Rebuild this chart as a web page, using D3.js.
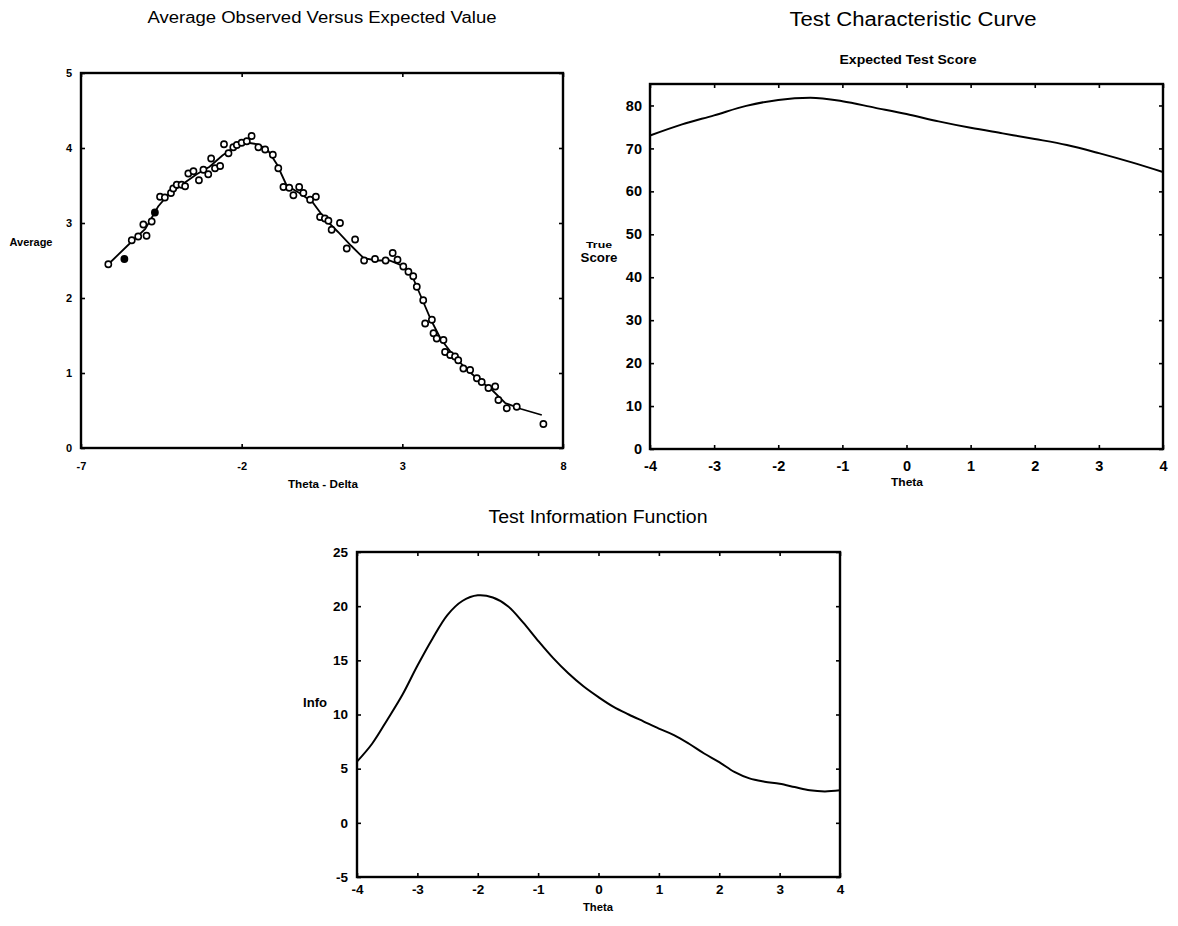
<!DOCTYPE html>
<html>
<head>
<meta charset="utf-8">
<script src="https://cdn.jsdelivr.net/npm/d3@7"></script>
<style>
  html, body { margin: 0; padding: 0; background: #fff; }
  svg { display: block; }
  text { font-family: "Liberation Sans", Arial, sans-serif; fill: #000; }
  .tick text { font-weight: bold; }
</style>
</head>
<body>
<svg id="chart" width="1178" height="926"></svg>
<script>
// Average observed vs expected: observed averages (points) and the smoothed fit (line)
const obsTheta = [-6.15,-5.65,-5.42,-5.22,-4.96,-5.06,-4.80,-4.70,-4.54,-4.39,-4.20,-4.13,-4.02,-3.87,-3.76,-3.66,-3.50,-3.33,-3.19,-3.04,-2.95,-2.83,-2.67,-2.55,-2.41,-2.26,-2.15,-2.00,-1.84,-1.69,-1.48,-1.27,-1.03,-0.86,-0.70,-0.52,-0.39,-0.21,-0.08,0.13,0.31,0.44,0.59,0.70,0.80,1.06,1.27,1.53,1.81,2.15,2.48,2.70,2.85,3.03,3.19,3.34,3.45,3.65,3.71,3.92,3.97,4.07,4.28,4.33,4.49,4.64,4.74,4.90,5.11,5.32,5.47,5.68,5.89,5.99,6.25,6.56,7.39];
const obsAvg   = [2.45,2.52,2.77,2.82,2.83,2.98,3.02,3.14,3.35,3.34,3.40,3.46,3.51,3.51,3.49,3.66,3.69,3.57,3.71,3.65,3.86,3.73,3.76,4.05,3.93,4.01,4.04,4.07,4.09,4.16,4.01,3.98,3.91,3.73,3.48,3.47,3.37,3.48,3.40,3.31,3.35,3.08,3.06,3.03,2.91,3.00,2.66,2.78,2.50,2.52,2.50,2.60,2.51,2.42,2.35,2.29,2.15,1.97,1.66,1.71,1.53,1.46,1.44,1.28,1.24,1.22,1.17,1.06,1.04,0.93,0.88,0.80,0.82,0.64,0.53,0.55,0.32];
const obsFilled = [1, 7];
const fitTheta = [-6.15,-5.5,-5.0,-4.6,-4.3,-3.9,-3.4,-3.0,-2.6,-2.2,-1.8,-1.5,-1.2,-0.9,-0.6,-0.2,0.2,0.6,1.0,1.4,1.8,2.2,2.6,3.0,3.3,3.6,3.9,4.2,4.6,5.0,5.4,5.8,6.2,6.7,7.34];
const fitAvg   = [2.45,2.72,2.92,3.22,3.37,3.50,3.65,3.75,3.90,4.02,4.07,4.05,3.98,3.78,3.50,3.40,3.28,3.05,2.88,2.70,2.53,2.50,2.50,2.43,2.30,2.00,1.70,1.45,1.23,1.05,0.90,0.77,0.60,0.52,0.44];
const avgXTicks = [-7, -2, 3, 8];
const avgYTicks = [0, 1, 2, 3, 4, 5];

// Test characteristic curve
const tccTheta = [-4,-3.5,-3,-2.5,-2,-1.5,-1,-0.5,0,0.5,1,1.5,2,2.5,3,3.5,4];
const tccScore = [73.0,75.6,77.7,79.9,81.3,81.8,81.0,79.5,78.0,76.3,74.8,73.5,72.2,70.8,68.9,66.8,64.5];
const tccYTicks = [0,10,20,30,40,50,60,70,80];

// Test information function
const tifTheta = [-4,-3.75,-3.5,-3.25,-3,-2.75,-2.5,-2.25,-2,-1.75,-1.5,-1.25,-1,-0.75,-0.5,-0.25,0,0.25,0.5,0.75,1,1.25,1.5,1.75,2,2.25,2.5,2.75,3,3.25,3.5,3.75,4];
const tifInfo  = [5.65,7.3,9.5,11.8,14.5,17.0,19.2,20.5,21.0,20.8,20.0,18.5,16.8,15.2,13.8,12.6,11.6,10.7,10.0,9.35,8.7,8.1,7.3,6.4,5.6,4.7,4.1,3.8,3.6,3.3,3.0,2.9,3.0];
const tifYTicks = [-5,0,5,10,15,20,25];
const thetaTicks = [-4,-3,-2,-1,0,1,2,3,4];

const svg = d3.select("#chart");
const fmt = d => (d < 0 ? "-" + Math.abs(d) : String(d));

// Draws a framed panel with inward ticks on all four sides
function panel(opts) {
  const { x0, x1, y0, y1, xDomain, yDomain, xTicks, yTicks, fontSize } = opts;
  const x = d3.scaleLinear().domain(xDomain).range([x0, x1]);
  const y = d3.scaleLinear().domain(yDomain).range([y1, y0]);
  const g = svg.append("g");

  g.append("g").attr("transform", `translate(0,${y1})`)
    .call(d3.axisBottom(x).tickValues(xTicks).tickFormat(fmt).tickSizeInner(-4).tickSizeOuter(0).tickPadding(opts.xPad));
  g.append("g").attr("transform", `translate(${x0},0)`)
    .call(d3.axisLeft(y).tickValues(yTicks).tickFormat(fmt).tickSizeInner(-4).tickSizeOuter(0).tickPadding(opts.yPad));
  g.append("g").attr("transform", `translate(0,${y0})`)
    .call(d3.axisTop(x).tickValues(xTicks).tickFormat("").tickSizeInner(-4).tickSizeOuter(0));
  g.append("g").attr("transform", `translate(${x1},0)`)
    .call(d3.axisRight(y).tickValues(yTicks).tickFormat("").tickSizeInner(-4).tickSizeOuter(0));

  g.selectAll(".domain").remove();
  g.selectAll(".tick line").attr("stroke", "#000").attr("stroke-width", 1.6);
  g.selectAll(".tick text").attr("font-size", fontSize).attr("fill", "#000");

  // frame
  g.append("rect").attr("x", x0).attr("y", y0).attr("width", x1 - x0).attr("height", y1 - y0)
    .attr("fill", "none").attr("stroke", "#000").attr("stroke-width", 2.4);
  return { x, y, g };
}

// Text helper: centred label stretched to a given width
function label(x, y, str, size, width, bold) {
  const t = svg.append("text").attr("x", x).attr("y", y).attr("text-anchor", "middle")
    .attr("font-size", size).attr("font-weight", bold ? "bold" : "normal").text(str);
  if (width) t.attr("textLength", width).attr("lengthAdjust", "spacingAndGlyphs");
  return t;
}

// ---- Panel 1: Average Observed Versus Expected Value
{
  const p = panel({ x0: 81, x1: 563, y0: 73, y1: 448, xDomain: [-7, 8], yDomain: [0, 5],
    xTicks: avgXTicks, yTicks: avgYTicks, fontSize: 11, xPad: 14, yPad: 9 });
  const line = d3.line().x((d, i) => p.x(fitTheta[i])).y(d => p.y(d)).curve(d3.curveLinear);
  p.g.append("path").datum(fitAvg).attr("d", line)
    .attr("fill", "none").attr("stroke", "#000").attr("stroke-width", 1.8);
  p.g.selectAll("circle.obs").data(obsAvg).join("circle").attr("class", "obs")
    .attr("cx", (d, i) => p.x(obsTheta[i])).attr("cy", d => p.y(d)).attr("r", 3.1)
    .attr("fill", (d, i) => obsFilled.includes(i) ? "#000" : "#fff")
    .attr("stroke", "#000").attr("stroke-width", 1.6);

  label(322, 23, "Average Observed Versus Expected Value", 16, 349, false);
  label(31, 246, "Average", 10, 43, true);
  label(323, 488, "Theta - Delta", 10, 70, true);
}

// ---- Panel 2: Test Characteristic Curve
{
  const p = panel({ x0: 650, x1: 1163, y0: 84, y1: 449, xDomain: [-4, 4], yDomain: [0, 85],
    xTicks: thetaTicks, yTicks: tccYTicks, fontSize: 14.5, xPad: 12, yPad: 8 });
  const line = d3.line().x((d, i) => p.x(tccTheta[i])).y(d => p.y(d)).curve(d3.curveMonotoneX);
  p.g.append("path").datum(tccScore).attr("d", line)
    .attr("fill", "none").attr("stroke", "#000").attr("stroke-width", 2);

  label(913, 26, "Test Characteristic Curve", 20, 247, false);
  label(908, 64, "Expected Test Score", 13, 137, true);
  label(599, 248, "True", 9, 26, true);
  label(599, 262, "Score", 13, 37, true);
  label(907, 486, "Theta", 11, 32, true);
}

// ---- Panel 3: Test Information Function
{
  const p = panel({ x0: 357, x1: 840, y0: 552, y1: 877, xDomain: [-4, 4], yDomain: [-5, 25],
    xTicks: thetaTicks, yTicks: tifYTicks, fontSize: 13.5, xPad: 7, yPad: 9 });
  const line = d3.line().x((d, i) => p.x(tifTheta[i])).y(d => p.y(d)).curve(d3.curveCatmullRom);
  p.g.append("path").datum(tifInfo).attr("d", line)
    .attr("fill", "none").attr("stroke", "#000").attr("stroke-width", 2);

  label(598, 523, "Test Information Function", 18, 219, false);
  label(315, 707, "Info", 12, 24, true);
  label(598, 911, "Theta", 11, 30, true);
}
</script>
</body>
</html>
